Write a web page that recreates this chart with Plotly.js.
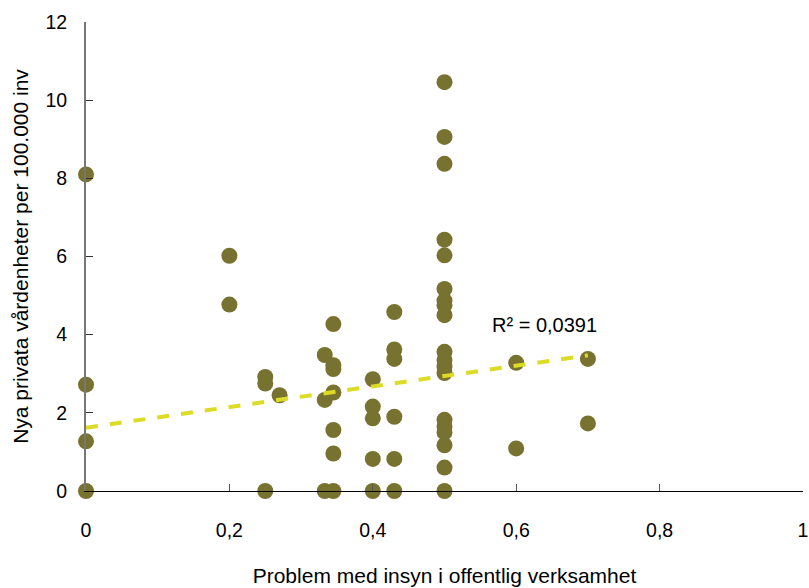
<!DOCTYPE html>
<html><head><meta charset="utf-8">
<script src="https://cdn.plot.ly/plotly-3.0.1.min.js"></script>
<style>body{margin:0;background:#fff}#c{width:809px;height:588px}</style>
</head><body><div id="c"></div>
<script>
const xVals = [0,0,0,0, 0.2,0.2, 0.25,0.25,0.25, 0.27, 0.333,0.333,0.333,
  0.345,0.345,0.345,0.345,0.345,0.345,0.345,
  0.4,0.4,0.4,0.4,0.4,
  0.43,0.43,0.43,0.43,0.43,0.43,
  0.5,0.5,0.5,0.5,0.5,0.5,0.5,0.5,0.5,0.5,0.5,0.5,0.5,0.5,0.5,0.5,0.5,0.5,0.5,
  0.6,0.6, 0.7,0.7];
const yVals = [8.1,2.72,1.27,0, 6.02,4.77, 2.92,2.75,0, 2.45, 3.48,2.33,0,
  4.27,3.22,3.12,2.52,1.56,0.96,0,
  2.86,2.16,1.86,0.82,0,
  4.58,3.62,3.38,1.9,0.82,0,
  10.46,9.06,8.37,6.43,6.03,5.17,4.87,4.75,4.5,3.56,3.35,3.18,3.02,1.82,1.65,1.5,1.17,0.6,0,
  3.28,1.09, 3.38,1.73];
// linear trend line
const trendX = [0, 0.7];
const trendY = [1.62, 3.47];
const r2Label = "R² = 0,0391";
const xTicks = [0,0.2,0.4,0.6,0.8,1];
const yTicks = [0,2,4,6,8,10,12];

const fam = "Liberation Sans, Arial, sans-serif";
const tickFont = {family:fam, size:19.5, color:"#000"};
const titleFont = {family:fam, size:21, color:"#000"};
const data = [
  {x:xVals, y:yVals, type:"scatter", mode:"markers",
   marker:{size:16, color:"#787231", line:{width:0}}, cliponaxis:false},
  {x:trendX, y:trendY, type:"scatter", mode:"lines",
   line:{color:"#dcdc26", width:4, dash:"dash"}, cliponaxis:false}
];
const layout = {
  width:809, height:588, showlegend:false, separators:", ",
  margin:{l:86, r:6, t:22, b:97},
  paper_bgcolor:"#fff", plot_bgcolor:"#fff", font:tickFont,
  xaxis:{range:[0,1], tickvals:xTicks, tickformat:".1~f", showgrid:false, zeroline:false,
    showline:true, linecolor:"#000", linewidth:1.3, ticks:"inside", ticklen:7, tickcolor:"#555",
    ticklabelstandoff:21, tickfont:tickFont,
    title:{text:"Problem med insyn i offentlig verksamhet", font:titleFont, standoff:28}},
  yaxis:{range:[0,12], tickvals:yTicks, showgrid:false, zeroline:false,
    showline:true, linecolor:"#777", linewidth:2, ticks:"inside", ticklen:7, tickcolor:"#333",
    ticklabelstandoff:13, tickfont:tickFont,
    title:{text:"Nya privata vårdenheter per 100.000 inv", font:titleFont, standoff:11}},
  annotations:[{x:0.64, y:4.25, xref:"x", yref:"y", text:r2Label, showarrow:false,
    font:{family:fam, size:20, color:"#000"}}]
};
Plotly.newPlot("c", data, layout, {displayModeBar:false, staticPlot:true});
</script></body></html>
